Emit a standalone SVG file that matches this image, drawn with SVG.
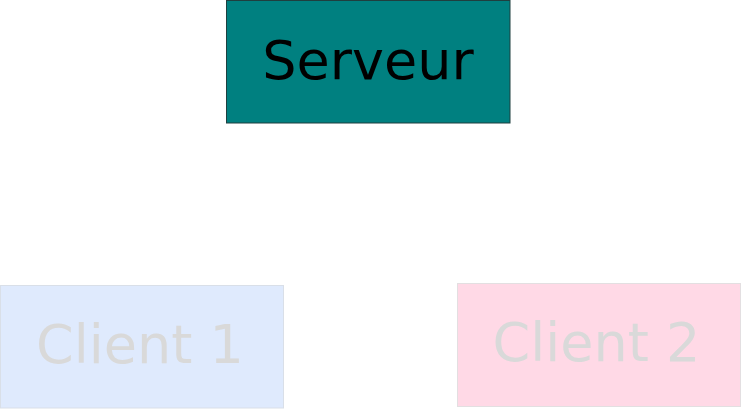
<svg xmlns="http://www.w3.org/2000/svg" width="741" height="409" viewBox="0 0 741 409">
<style>
.lbl{font-family:"DejaVu Sans",sans-serif;font-size:54px;text-anchor:middle}
.srv{fill:#008080;stroke:#1f3f3f;stroke-width:1}
.c1{fill:#dfeafd;stroke:#d9dfe8;stroke-width:1}
.c2{fill:#ffd9e6;stroke:#e3dfe1;stroke-width:1}
.dim{fill:#d9d9d9}
</style>
<rect width="741" height="409" fill="#ffffff"/>
<g id="connectors"></g>
<g id="serveur">
<rect class="srv" x="226.5" y="0.5" width="283.5" height="122.5"/>
<text class="lbl" x="368" y="79" fill="#000000">Serveur</text>
</g>
<g id="client1">
<rect class="c1" x="0.5" y="285.5" width="283" height="122.5"/>
<text class="lbl dim" x="140" y="362.5">Client 1</text>
</g>
<g id="client2">
<rect class="c2" x="457.5" y="283.5" width="283" height="123"/>
<text class="lbl dim" x="596.5" y="361">Client 2</text>
</g>
</svg>
